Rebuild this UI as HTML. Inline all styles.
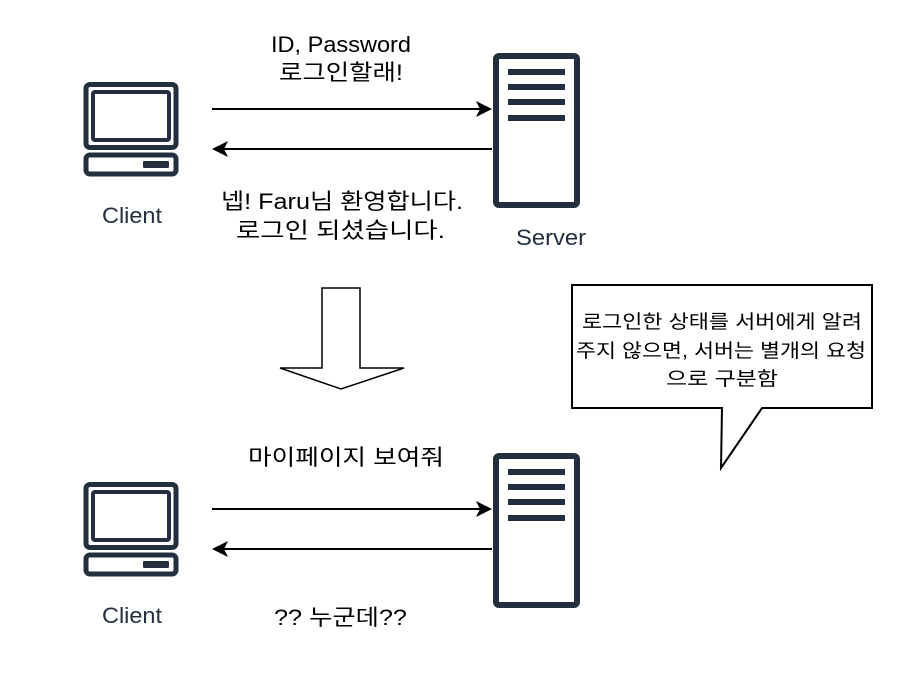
<!DOCTYPE html>
<html><head><meta charset="utf-8"><style>
html,body{margin:0;padding:0;background:#fff;width:912px;height:681px;overflow:hidden}
text{font-family:"Liberation Sans","Noto Sans CJK KR",sans-serif}
</style></head><body>
<svg width="912" height="681" viewBox="0 0 912 681" xmlns="http://www.w3.org/2000/svg">
<defs>
<g id="client">
<rect x="86" y="84.5" width="90" height="63" rx="4" fill="none" stroke="#232F3E" stroke-width="5"/>
<rect x="93" y="92" width="76" height="48" rx="2" fill="none" stroke="#232F3E" stroke-width="4"/>
<rect x="86" y="155" width="90" height="19" rx="4" fill="none" stroke="#232F3E" stroke-width="5"/>
<rect x="143" y="161" width="26" height="7" rx="1" fill="#232F3E"/>
</g>
<g id="server">
<rect x="496" y="56" width="81" height="149" rx="3" fill="none" stroke="#232F3E" stroke-width="6"/>
<rect x="508" y="69" width="57" height="6" fill="#232F3E"/>
<rect x="508" y="84" width="57" height="6" fill="#232F3E"/>
<rect x="508" y="99" width="57" height="6" fill="#232F3E"/>
<rect x="508" y="115" width="57" height="6" fill="#232F3E"/>
</g>
</defs>
<use href="#client"/>
<use href="#server"/>
<use href="#client" y="400"/>
<use href="#server" y="400"/>
<g stroke="#000" stroke-width="2">
<line x1="212" y1="109" x2="484" y2="109"/>
<line x1="222" y1="149" x2="492" y2="149"/>
<line x1="212" y1="509" x2="484" y2="509"/>
<line x1="222" y1="549" x2="492" y2="549"/>
</g>
<g fill="#000">
<path d="M492 109 L476 101 L480 109 L476 117Z"/>
<path d="M212 149 L228 141 L224 149 L228 157Z"/>
<path d="M492 509 L476 501 L480 509 L476 517Z"/>
<path d="M212 549 L228 541 L224 549 L228 557Z"/>
</g>
<path d="M322 288 L360 288 L360 368 L404 368 L341 389 L280 368 L322 368Z" fill="#fff" stroke="#000" stroke-width="1.5"/>
<path d="M572 285 L872 285 L872 408 L762 408 L721 468 L722 408 L572 408Z" fill="#fff" stroke="#000" stroke-width="2"/>
<g font-size="22" fill="#000" lengthAdjust="spacingAndGlyphs">
<text x="271" y="52" textLength="140" lengthAdjust="spacingAndGlyphs">ID, Password</text>
<text x="279" y="80" textLength="124" lengthAdjust="spacingAndGlyphs">로그인할래!</text>
<text x="221" y="209" textLength="242" lengthAdjust="spacingAndGlyphs">넵! Faru님 환영합니다.</text>
<text x="236" y="238" textLength="209" lengthAdjust="spacingAndGlyphs">로그인 되셨습니다.</text>
<text x="248" y="465" textLength="196" lengthAdjust="spacingAndGlyphs">마이페이지 보여줘</text>
<text x="274" y="625" textLength="133" lengthAdjust="spacingAndGlyphs">?? 누군데??</text>
</g>
<g font-size="22" fill="#232F3E">
<text x="102" y="223" textLength="60" lengthAdjust="spacingAndGlyphs">Client</text>
<text x="516" y="245" textLength="70" lengthAdjust="spacingAndGlyphs">Server</text>
<text x="102" y="623" textLength="60" lengthAdjust="spacingAndGlyphs">Client</text>
</g>
<g font-size="19" fill="#000">
<text x="582" y="328" textLength="280" lengthAdjust="spacingAndGlyphs">로그인한 상태를 서버에게 알려</text>
<text x="576" y="357" textLength="290" lengthAdjust="spacingAndGlyphs">주지 않으면, 서버는 별개의 요청</text>
<text x="666" y="385" textLength="112" lengthAdjust="spacingAndGlyphs">으로 구분함</text>
</g>
</svg>
</body></html>
